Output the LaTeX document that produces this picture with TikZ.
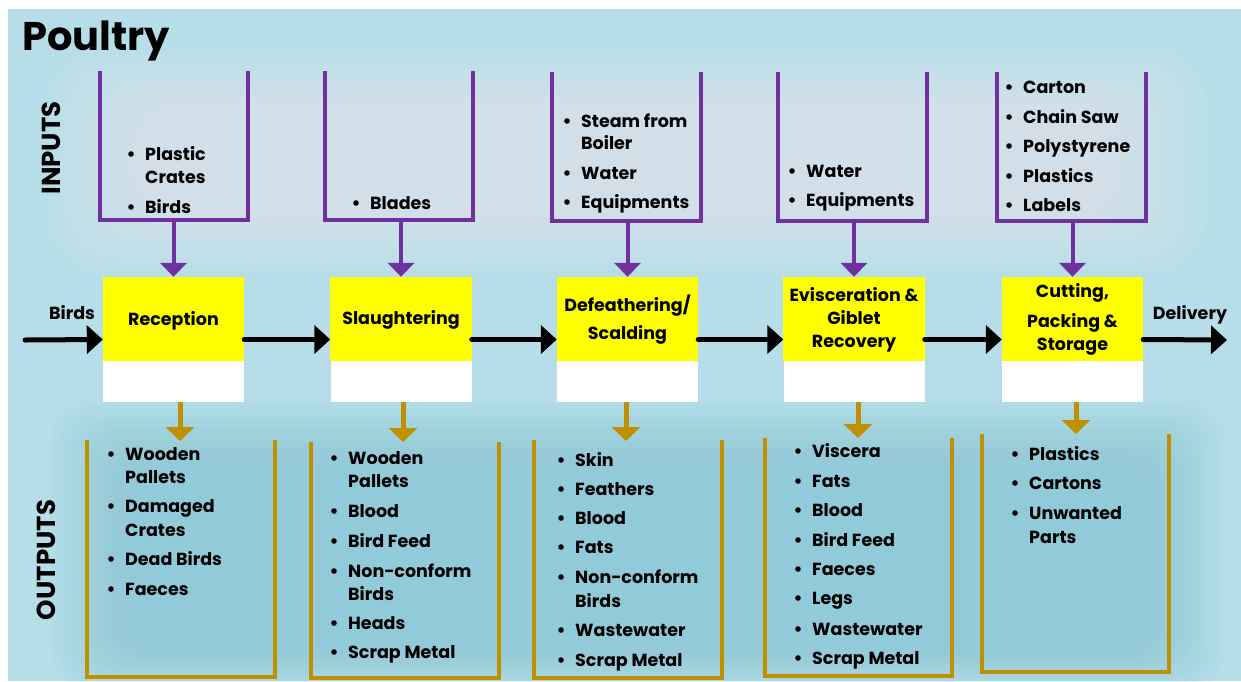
\documentclass[tikz,border=0pt]{standalone}
\usepackage{fontspec}
\setmainfont{Poppins}
\usetikzlibrary{arrows.meta}

\definecolor{bgblue}{HTML}{B7DEE8}
\definecolor{hazelight}{HTML}{EAF6F9}
\definecolor{hazedark}{HTML}{8CCAD9}
\definecolor{inpurple}{HTML}{7030A0}
\definecolor{outgold}{HTML}{BF9000}
\definecolor{procyellow}{HTML}{FFFF00}

\newcommand\itemfont{\fontsize{17.5}{20}\selectfont\bfseries}

% list of bullet items: name prefix, text x, {bullet/baseline/text,...}
\newcommand\itemlist[3]{%
  \foreach \b/\y/\t [count=\n] in {#3} {
    \node[itemtext] (#1\n) at (#2,\y) {\t};
    \ifnum\b=1 \fill ([shift={(-14,-6)}]#1\n.base west) circle[radius=2.8];\fi
  }}

\begin{document}
\begin{tikzpicture}[x=1pt,y=-1pt,
  itemtext/.style={anchor=base west, inner sep=0pt, font=\itemfont},
  proctext/.style={anchor=base, inner sep=0pt, font=\itemfont},
  procbox/.style={fill=white, minimum width=141pt, minimum height=125pt, inner sep=0pt},
  flow/.style={line width=5pt, line cap=round, -{Triangle[width=28pt,length=16pt]}},
  inbracket/.style={draw=inpurple, line width=3.5pt},
  inarrow/.style={draw=inpurple, line width=4pt, -{Triangle[width=26pt,length=14pt]}},
  outbracket/.style={draw=outgold, line width=4pt},
  outarrow/.style={draw=outgold, line width=5pt, -{Triangle[width=28pt,length=14pt]}},
  sidelabel/.style={rotate=90, anchor=base, inner sep=0pt, font=\fontsize{26}{28}\selectfont\bfseries}]

\useasboundingbox (0,0) rectangle (1241,681);
\fill[white] (0,0) rectangle (1241,681);
\fill[bgblue] (8,9) rectangle (1241,681);

% soft light band behind the inputs, darker band behind the outputs
\foreach \i in {0,...,29}
  \fill[hazelight, opacity=0.045, rounded corners=50pt]
    (50+4*\i,50+2.5*\i) rectangle (1205-4*\i,270-2.5*\i);
\foreach \i in {0,...,24}
  \fill[hazedark, opacity=0.05, rounded corners=40pt]
    (50+3.5*\i,400+3*\i) rectangle (1225-3.5*\i,690-2*\i);

% title and side labels
\node[anchor=base west, inner sep=0pt, font=\fontsize{40}{42}\selectfont\bfseries] (title) at (22,50) {Poultry};
\node[sidelabel] (inlabel) at (60,148) {INPUTS};
\node[sidelabel] (outlabel) at (55,560) {OUTPUTS};

% process boxes
\node[procbox] (rec) at (173.5,339.5) {};
\node[procbox] (sla) at (401,339.5) {};
\node[procbox] (def) at (627.5,339.5) {};
\node[procbox] (evi) at (854,339.5) {};
\node[procbox] (cut) at (1072.5,339.5) {};
\foreach \p in {rec,sla,def,evi,cut}
  \fill[procyellow] (\p.north west) rectangle ([yshift=-84pt]\p.north east);

\node[proctext] (recA) at (173.5,325) {Reception};
\node[proctext] (slaA) at (401,324) {Slaughtering};
\node[proctext] (defA) at (627.5,311) {Defeathering/};
\node[proctext] (defB) at (627.5,339) {Scalding};
\node[proctext] (eviA) at (854,301) {Evisceration \&};
\node[proctext] (eviB) at (854,324) {Giblet};
\node[proctext] (eviC) at (854,347) {Recovery};
\node[proctext] (cutA) at (1072.5,297) {Cutting,};
\node[proctext] (cutB) at (1072.5,327) {Packing \&};
\node[proctext] (cutC) at (1072.5,350) {Storage};

% main flow
\coordinate (birdsin) at (25,340);
\coordinate (delivout) at (1227,340);
\node[proctext] (birdslabel) at (72,319) {Birds};
\node[proctext] (delivlabel) at (1190,319) {Delivery};
\draw[flow] (birdsin) -- (rec.west);
\draw[flow] (rec.east) -- (sla.west);
\draw[flow] (sla.east) -- (def.west);
\draw[flow] (def.east) -- (evi.west);
\draw[flow] (evi.east) -- (cut.west);
\draw[flow] (cut.east) -- (delivout);

% input brackets
\draw[inbracket] (100,71) -- (100,220) -- (248,220) -- (248,71);
\draw[inbracket] (325,71) -- (325,220) -- (473,220) -- (473,71);
\draw[inbracket] (552,72) -- (552,221) -- (701,221) -- (701,72);
\draw[inbracket] (778,72) -- (778,221) -- (927,221) -- (927,72);
\draw[inbracket] (997,72) -- (997,221) -- (1146,221) -- (1146,72);
\coordinate (ib1) at (173.5,220);
\coordinate (ib2) at (401,220);
\coordinate (ib3) at (627.5,221);
\coordinate (ib4) at (854,221);
\coordinate (ib5) at (1072.5,221);
\draw[inarrow] (ib1) -- (rec.north);
\draw[inarrow] (ib2) -- (sla.north);
\draw[inarrow] (ib3) -- (def.north);
\draw[inarrow] (ib4) -- (evi.north);
\draw[inarrow] (ib5) -- (cut.north);

% output brackets
\draw[outbracket] (87,440) -- (87,677) -- (275,677) -- (275,440);
\draw[outbracket] (311,442) -- (311,678) -- (499,678) -- (499,442);
\draw[outbracket] (534,440) -- (534,678) -- (722,678) -- (722,440);
\draw[outbracket] (765,438) -- (765,676) -- (952,676) -- (952,438);
\draw[outbracket] (982,434) -- (982,672) -- (1169,672) -- (1169,434);
\coordinate (ob1) at (180,441);
\coordinate (ob2) at (403,442);
\coordinate (ob3) at (626,441);
\coordinate (ob4) at (858,438);
\coordinate (ob5) at (1076,434);
\draw[outarrow] (ob1 |- rec.south) -- (ob1);
\draw[outarrow] (ob2 |- sla.south) -- (ob2);
\draw[outarrow] (ob3 |- def.south) -- (ob3);
\draw[outarrow] (ob4 |- evi.south) -- (ob4);
\draw[outarrow] (ob5 |- cut.south) -- (ob5);

% inputs
\itemlist{inA}{145}{1/160/Plastic, 0/183/Crates, 1/213/Birds}
\itemlist{inB}{370}{1/209/Blades}
\itemlist{inC}{581}{1/127/Steam from, 0/149/Boiler, 1/179/Water, 1/208/Equipments}
\itemlist{inD}{806}{1/177/Water, 1/206/Equipments}
\itemlist{inE}{1023}{1/93/Carton, 1/123/Chain Saw, 1/152/Polystyrene, 1/182/Plastics, 1/211/Labels}

% outputs
\itemlist{outA}{125}{1/460/Wooden, 0/483/Pallets, 1/512/Damaged, 0/536/Crates, 1/565/Dead Birds, 1/595/Faeces}
\itemlist{outB}{348}{1/464/Wooden, 0/487/Pallets, 1/517/Blood, 1/547/Bird Feed, 1/577/Non-conform, 0/600/Birds, 1/629/Heads, 1/658/Scrap Metal}
\itemlist{outC}{575}{1/466/Skin, 1/495/Feathers, 1/524/Blood, 1/553/Fats, 1/583/Non-conform, 0/607/Birds, 1/636/Wastewater, 1/666/Scrap Metal}
\itemlist{outD}{812}{1/457/Viscera, 1/487/Fats, 1/516/Blood, 1/546/Bird Feed, 1/575/Faeces, 1/604/Legs, 1/635/Wastewater, 1/664/Scrap Metal}
\itemlist{outE}{1029}{1/460/Plastics, 1/489/Cartons, 1/519/Unwanted, 0/543/Parts}

\end{tikzpicture}
\end{document}
